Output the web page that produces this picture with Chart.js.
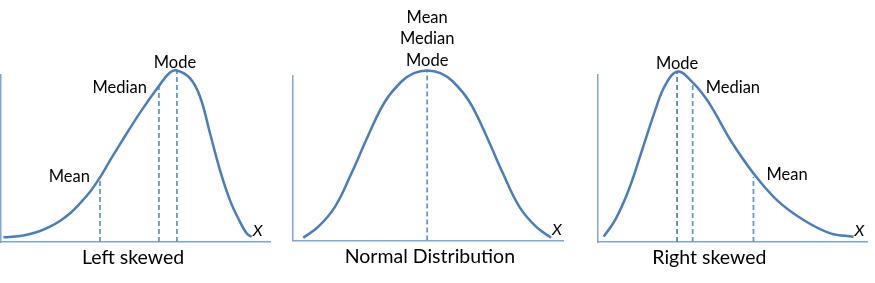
<!DOCTYPE html>
<html>
<head>
<meta charset="utf-8">
<script src="https://cdn.jsdelivr.net/npm/chart.js@4"></script>
<style>
  body { margin: 0; background: #fff; }
  #wrap { position: relative; width: 875px; height: 283px; }
  #wrap canvas { position: absolute; left: 0; top: 0; }
</style>
</head>
<body>
<div id="wrap">
  <canvas id="leftChart" width="875" height="283"></canvas>
  <canvas id="normalChart" width="875" height="283"></canvas>
  <canvas id="rightChart" width="875" height="283"></canvas>
</div>
<script>
/* curves: x along the axis (0-100), y height (0-100) */
const leftX = [0.9, 7.1, 10.8, 14.5, 18.2, 21.9, 25.7, 29.4, 33.1, 36.8, 39.9, 44.2, 51.7, 58.7, 62.8, 65.4, 70.3, 74.0, 77.7, 81.4, 85.1, 88.8, 91.3, 93.2];
const leftY = [2.8, 3.6, 4.8, 6.6, 9.2, 12.6, 17.2, 23.2, 30.1, 38.7, 47.1, 58.5, 77.5, 93.4, 101.5, 102.7, 98.0, 87.0, 65.1, 43.1, 25.1, 12.2, 5.2, 3.0];

const normalX = [3.8, 9.4, 15.6, 21.7, 27.9, 34.1, 40.3, 44.8, 49.7, 54.6, 59.1, 65.3, 71.5, 77.7, 83.8, 90.0, 95.6];
const normalY = [1.7, 8.4, 20.6, 41.0, 64.0, 84.5, 96.8, 101.8, 103.4, 101.8, 96.8, 84.5, 64.0, 41.0, 20.6, 8.4, 1.7];

const rightX = [2.1, 6.4, 11.4, 16.4, 21.3, 25.0, 29.7, 34.9, 39.9, 43.6, 49.2, 57.8, 66.5, 76.4, 86.4, 95.0];
const rightY = [3.2, 13.2, 31.1, 55.1, 79.0, 94.0, 102.1, 96.0, 86.5, 77.0, 61.1, 41.1, 25.1, 13.2, 5.2, 3.2];

/* dashed markers: position and height where they meet the curve */
const leftMarkX = [36.8, 58.7, 65.4];
const leftMarkTop = [38.7, 92.8, 102.4];
const normalMarkX = [49.7];
const normalMarkTop = [103.4];
const rightMarkX = [29.4, 35.2, 57.8];
const rightMarkTop = [102.1, 94.0, 39.1];

const leftLabels = ["Mean", "Median", "Mode"];
const normalLabels = ["Mean", "Median", "Mode"];
const rightLabels = ["Mode", "Median", "Mean"];
const titles = ["Left skewed", "Normal Distribution", "Right skewed"];
const axisLabel = "X";

const curveColor = "#4a7ebb";
const dashColor = "#5b9bd5";
const axisColor = "#7ea6d8";
const fontFamily = "Lato, 'Open Sans', sans-serif";

/* draws the labels, titles and the X mark from the scales */
const panelText = {
    id: "panelText",
    afterDatasetsDraw(chart) {
        const o = chart.options.plugins.panelText;
        const ctx = chart.ctx;
        const xs = chart.scales.x;
        const ys = chart.scales.y;
        ctx.save();
        ctx.fillStyle = "#000";
        ctx.textBaseline = "middle";

        ctx.font = "16.5px " + fontFamily;
        o.labels.forEach((text, i) => {
            const p = o.labelPos[i];
            const px = xs.getPixelForValue(o.markX[p.mark]);
            const py = ys.getPixelForValue(o.markTop[p.mark]);
            ctx.textAlign = p.align;
            ctx.fillText(text, px + p.dx, py + p.dy);
        });

        ctx.font = "19.5px " + fontFamily;
        ctx.textAlign = "center";
        ctx.fillText(o.title, xs.getPixelForValue(o.titleAt), ys.getPixelForValue(0) + 16);

        const lastX = o.curveX[o.curveX.length - 1];
        ctx.font = "italic 16px " + fontFamily;
        ctx.textAlign = "left";
        ctx.fillText(axisLabel, xs.getPixelForValue(lastX) + 1, ys.getPixelForValue(0) - 11);
        ctx.restore();
    }
};

function makePanel(id, p) {
    const datasets = [{
        data: p.curveX.map((x, i) => ({ x: x, y: p.curveY[i] })),
        borderColor: curveColor,
        borderWidth: 2.5,
        pointRadius: 0,
        tension: 0.4,
        clip: false
    }];
    p.markX.forEach((m, i) => {
        datasets.push({
            data: [{ x: m, y: 0 }, { x: m, y: p.markTop[i] }],
            borderColor: p.dashColors[i],
            borderWidth: 1.8,
            borderDash: [5, 3],
            pointRadius: 0,
            clip: false
        });
    });

    return new Chart(document.getElementById(id), {
        type: "line",
        data: { datasets: datasets },
        options: {
            responsive: false,
            animation: false,
            layout: { padding: p.pad, autoPadding: false },
            plugins: {
                legend: { display: false },
                tooltip: { enabled: false },
                panelText: p
            },
            scales: {
                x: {
                    type: "linear", min: 0, max: 100,
                    ticks: { display: false },
                    grid: { display: false, drawTicks: false },
                    border: { display: true, color: axisColor, width: 1.5 }
                },
                y: {
                    min: 0, max: 100,
                    ticks: { display: false },
                    grid: { display: false, drawTicks: false },
                    border: { display: true, color: axisColor, width: 1.5 }
                }
            }
        },
        plugins: [panelText]
    });
}

makePanel("leftChart", {
    curveX: leftX, curveY: leftY,
    markX: leftMarkX, markTop: leftMarkTop,
    dashColors: [dashColor, dashColor, dashColor],
    labels: leftLabels,
    labelPos: [
        { mark: 0, align: "right", dx: -10, dy: -1 },
        { mark: 1, align: "right", dx: -12, dy: 1 },
        { mark: 2, align: "center", dx: -2, dy: -8 }
    ],
    title: titles[0], titleAt: 49.1,
    pad: { left: 1, right: 605, top: 75, bottom: 41 }
});

makePanel("normalChart", {
    curveX: normalX, curveY: normalY,
    markX: normalMarkX, markTop: normalMarkTop,
    dashColors: [dashColor],
    labels: normalLabels,
    labelPos: [
        { mark: 0, align: "center", dx: 0, dy: -53 },
        { mark: 0, align: "center", dx: 0, dy: -31.5 },
        { mark: 0, align: "center", dx: 0, dy: -10 }
    ],
    title: titles[1], titleAt: 50.7,
    pad: { left: 293, right: 312, top: 76, bottom: 42.5 }
});

makePanel("rightChart", {
    curveX: rightX, curveY: rightY,
    markX: rightMarkX, markTop: rightMarkTop,
    dashColors: ["#4f86c6", dashColor, dashColor],
    labels: rightLabels,
    labelPos: [
        { mark: 0, align: "center", dx: 0, dy: -8 },
        { mark: 1, align: "left", dx: 13, dy: 3 },
        { mark: 2, align: "left", dx: 13, dy: -2 }
    ],
    title: titles[2], titleAt: 41.4,
    pad: { left: 598, right: 8, top: 75, bottom: 41 }
});
</script>
</body>
</html>
